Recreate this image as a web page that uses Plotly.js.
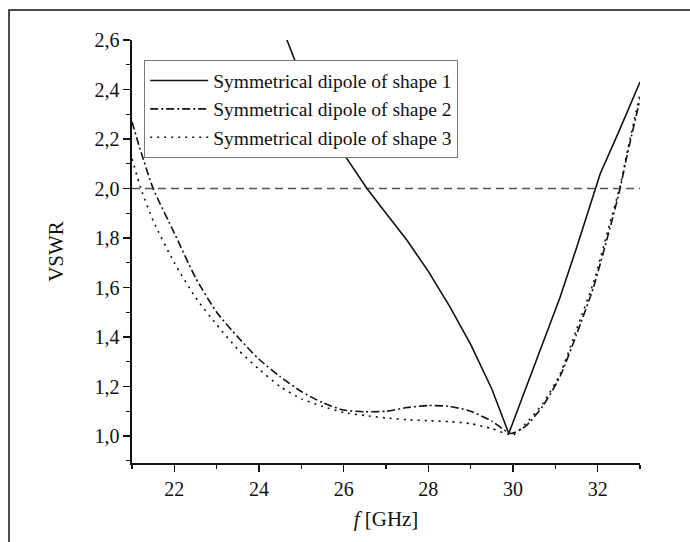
<!DOCTYPE html>
<html>
<head>
<meta charset="utf-8">
<script src="https://cdn.plot.ly/plotly-3.0.1.min.js"></script>
<style>
  html, body { margin: 0; padding: 0; background: #fff; }
  #chart { width: 690px; height: 542px; }
</style>
</head>
<body>
<div id="chart"></div>
<script>
// ---- Data ----
const seriesNames = [
  "Symmetrical dipole of shape 1",
  "Symmetrical dipole of shape 2",
  "Symmetrical dipole of shape 3"
];

// Shape 1 (solid)
const freqShape1 = [24.5, 24.66, 25.0, 25.5, 26.0, 26.55, 27.0, 27.5, 28.0, 28.5, 29.0, 29.5, 29.9,
                    30.3, 30.7, 31.11, 31.5, 31.95, 32.06, 32.5, 33.0];
const vswrShape1 = [2.66, 2.60, 2.45, 2.28, 2.14, 2.00, 1.90, 1.79, 1.665, 1.525, 1.37, 1.19, 1.01,
                    1.19, 1.37, 1.56, 1.76, 2.00, 2.06, 2.23, 2.43];

// Shape 2 (dash-dot)
const freqShape2 = [21.0, 21.19, 21.5, 22.0, 22.5, 23.0, 23.5, 24.0, 24.5, 25.0, 25.5, 26.0, 26.5, 27.0,
                    27.5, 28.0, 28.5, 29.0, 29.5, 29.95, 30.3, 30.7, 31.11, 31.5, 31.9, 32.29, 32.53, 32.69, 33.0];
const vswrShape2 = [2.27, 2.16, 2.00, 1.82, 1.64, 1.50, 1.40, 1.31, 1.24, 1.18, 1.135, 1.105, 1.098, 1.10,
                    1.115, 1.123, 1.12, 1.10, 1.06, 1.01, 1.04, 1.12, 1.24, 1.41, 1.60, 1.84, 2.00, 2.13, 2.36];

// Shape 3 (dotted)
const freqShape3 = [21.0, 21.21, 21.5, 22.0, 22.5, 23.0, 23.5, 24.0, 24.5, 25.0, 25.5, 26.0, 26.5, 27.0,
                    27.5, 28.0, 28.5, 29.0, 29.5, 30.0, 30.3, 30.7, 31.11, 31.5, 31.9, 32.29, 32.53, 32.7, 33.0];
const vswrShape3 = [2.12, 2.00, 1.87, 1.70, 1.56, 1.45, 1.35, 1.27, 1.20, 1.15, 1.12, 1.095, 1.083, 1.073,
                    1.066, 1.062, 1.058, 1.05, 1.03, 1.004, 1.05, 1.13, 1.25, 1.43, 1.62, 1.86, 2.01, 2.15, 2.38];

// Reference level line
const thresholdVSWR = 2.0;

// Axis ticks
const xTickVals = [22, 24, 26, 28, 30, 32];
const yTickVals = [1.0, 1.2, 1.4, 1.6, 1.8, 2.0, 2.2, 2.4, 2.6];

// ---- Plot ----
const serif = "Liberation Serif, Times New Roman, serif";
const ink = "#111";

const traces = [
  { x: freqShape1, y: vswrShape1, name: seriesNames[0], mode: "lines",
    line: { color: ink, width: 1.6, dash: "solid", shape: "linear" } },
  { x: freqShape2, y: vswrShape2, name: seriesNames[1], mode: "lines",
    line: { color: ink, width: 1.6, dash: "8px,3px,2px,3px", shape: "spline", smoothing: 0.6 } },
  { x: freqShape3, y: vswrShape3, name: seriesNames[2], mode: "lines",
    line: { color: ink, width: 1.6, dash: "2px,5px", shape: "spline", smoothing: 0.6 } }
];

const layout = {
  width: 690, height: 542,
  margin: { l: 132, r: 50, t: 40, b: 79 },
  paper_bgcolor: "#fff", plot_bgcolor: "#fff",
  separators: ",.",
  font: { family: serif, size: 20, color: ink },
  showlegend: true,
  legend: {
    x: 0.024, y: 0.952, xanchor: "left", yanchor: "top",
    bgcolor: "#fff", bordercolor: "#777", borderwidth: 1,
    font: { family: serif, size: 19.5, color: ink },
    itemwidth: 58, tracegroupgap: 0
  },
  xaxis: {
    range: [21, 33], tickvals: xTickVals, ticktext: xTickVals.map(String),
    showgrid: false, zeroline: false, showline: true, linecolor: ink, linewidth: 1.6,
    ticks: "outside", ticklen: 7, tickwidth: 1.6, tickcolor: ink,
    minor: { dtick: 1, ticks: "outside", ticklen: 4, tickwidth: 1.4, tickcolor: ink, showgrid: false },
    tickfont: { family: serif, size: 20, color: ink },
    title: { text: "<i>f</i> [GHz]", font: { family: serif, size: 21, color: ink }, standoff: 13 },
    fixedrange: true
  },
  yaxis: {
    range: [0.891, 2.6], tickvals: yTickVals, tickformat: ".1f",
    showgrid: false, zeroline: false, showline: true, linecolor: ink, linewidth: 1.6,
    ticks: "outside", ticklen: 7, tickwidth: 1.6, tickcolor: ink,
    minor: { dtick: 0.1, tick0: 1.0, ticks: "outside", ticklen: 4, tickwidth: 1.4, tickcolor: ink, showgrid: false },
    tickfont: { family: serif, size: 20, color: ink },
    title: { text: "VSWR", font: { family: serif, size: 21, color: ink }, standoff: 25 },
    fixedrange: true
  },
  shapes: [
    { type: "line", xref: "paper", yref: "y", x0: 0, x1: 1, y0: thresholdVSWR, y1: thresholdVSWR,
      line: { color: "#555", width: 1.5, dash: "8px,5px" }, layer: "below" },
    { type: "rect", xref: "paper", yref: "paper", x0: -0.2421, x1: 1.2, y0: -0.3, y1: 1.0709,
      line: { color: ink, width: 1.5 }, fillcolor: "rgba(0,0,0,0)", layer: "below" }
  ]
};

Plotly.newPlot("chart", traces, layout, { displayModeBar: false, staticPlot: true });
</script>
</body>
</html>
